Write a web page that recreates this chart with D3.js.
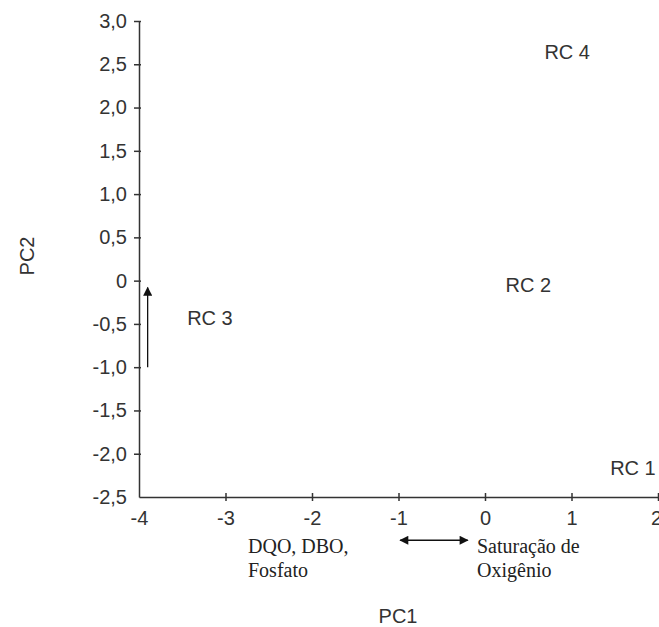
<script src="https://cdnjs.cloudflare.com/ajax/libs/d3/7.8.5/d3.min.js"></script>
<style>
    body { margin: 0; background: #fff; }
    .sans { font-family: "Liberation Sans", Arial, sans-serif; }
    .serif { font-family: "Liberation Serif", "Times New Roman", serif; }
    .axis .domain { stroke: #333; stroke-width: 1.5; }
    .axis .tick line { stroke: #333; stroke-width: 1.5; }
    .axis .tick text { fill: #333; font-size: 20px; font-family: "Liberation Sans", Arial, sans-serif; }
</style>
<svg width="659" height="627"></svg>
<script>
    // scores of the sampling points (PC1, PC2)
    var pointNames = ["RC 1", "RC 2", "RC 3", "RC 4"];
    var pc1 = [1.71, 0.5, -3.18, 0.95];
    var pc2 = [-2.16, -0.05, -0.43, 2.64];

    var xTicks = [-4, -3, -2, -1, 0, 1, 2];
    var yTicks = [-2.5, -2, -1.5, -1, -0.5, 0, 0.5, 1, 1.5, 2, 2.5, 3];

    // loading arrows (start x, start y, end x, end y) in PC units
    var arrowFrom = [[-3.9, -1.0], [-0.2, -3.0]];
    var arrowTo = [[-3.9, -0.08], [-0.98, -3.0]];
    var arrowDouble = [false, true];

    var svg = d3.select("svg");

    var x = d3.scaleLinear().domain([-4, 2]).range([139, 658]);
    var y = d3.scaleLinear().domain([-2.5, 3]).range([497, 21]);

    function fmtY(d) {
        if (d === 0) return "0";
        return d.toFixed(1).replace(".", ",");
    }

    svg.append("g")
        .attr("class", "axis")
        .attr("transform", "translate(0," + y(-2.5) + ")")
        .call(d3.axisBottom(x).tickValues(xTicks).tickSizeInner(4).tickSizeOuter(0).tickPadding(10)
            .tickFormat(function(d) { return String(d); }))
        .call(function(g) {
            g.selectAll(".tick line").attr("y1", -4);
            g.selectAll(".tick").filter(function(d) { return d === -4; }).select("line").remove();
            g.selectAll(".tick").filter(function(d) { return d === 2; }).select("text").attr("dx", -2);
        });

    svg.append("g")
        .attr("class", "axis")
        .attr("transform", "translate(" + x(-4) + ",0)")
        .call(d3.axisLeft(y).tickValues(yTicks).tickSizeInner(5).tickSizeOuter(0).tickPadding(7)
            .tickFormat(fmtY))
        .call(function(g) {
            g.selectAll(".tick line").attr("x1", 2);
            g.selectAll(".tick").filter(function(d) { return d === -2.5; }).select("line").remove();
        });

    // point labels
    svg.append("g").selectAll("text")
        .data(pointNames)
        .enter().append("text")
        .attr("class", "sans")
        .attr("x", function(d, i) { return x(pc1[i]); })
        .attr("y", function(d, i) { return y(pc2[i]); })
        .attr("dy", "0.35em")
        .attr("text-anchor", "middle")
        .attr("fill", "#333")
        .attr("font-size", "20px")
        .text(function(d) { return d; });

    // arrow markers
    var defs = svg.append("defs");
    defs.append("marker")
        .attr("id", "head")
        .attr("viewBox", "0 0 10 10")
        .attr("refX", 9).attr("refY", 5)
        .attr("markerWidth", 12).attr("markerHeight", 9)
        .attr("markerUnits", "userSpaceOnUse")
        .attr("orient", "auto-start-reverse")
        .append("path")
        .attr("d", "M0,0L10,5L0,10Z")
        .attr("fill", "#111");

    svg.append("g").selectAll("line")
        .data(arrowFrom)
        .enter().append("line")
        .attr("x1", function(d) { return x(d[0]); })
        .attr("y1", function(d) { return y(d[1]); })
        .attr("x2", function(d, i) { return x(arrowTo[i][0]); })
        .attr("y2", function(d, i) { return y(arrowTo[i][1]); })
        .attr("stroke", "#111")
        .attr("stroke-width", 1.3)
        .attr("marker-end", "url(#head)")
        .attr("marker-start", function(d, i) { return arrowDouble[i] ? "url(#head)" : null; });

    // variable names near the PC1 arrow
    var leftLabel = svg.append("text")
        .attr("class", "serif").attr("font-size", "20px").attr("fill", "#222");
    leftLabel.append("tspan").attr("x", 248).attr("y", 553).text("DQO, DBO,");
    leftLabel.append("tspan").attr("x", 248).attr("y", 577).text("Fosfato");

    var rightLabel = svg.append("text")
        .attr("class", "serif").attr("font-size", "20px").attr("fill", "#222");
    rightLabel.append("tspan").attr("x", 477).attr("y", 553).text("Saturação de");
    rightLabel.append("tspan").attr("x", 477).attr("y", 577).text("Oxigênio");

    // axis titles
    svg.append("text")
        .attr("class", "sans")
        .attr("x", 398).attr("y", 623)
        .attr("text-anchor", "middle")
        .attr("font-size", "20px").attr("fill", "#333")
        .text("PC1");

    svg.append("text")
        .attr("class", "sans")
        .attr("transform", "translate(34,256) rotate(-90)")
        .attr("text-anchor", "middle")
        .attr("font-size", "20px").attr("fill", "#333")
        .text("PC2");
</script>
